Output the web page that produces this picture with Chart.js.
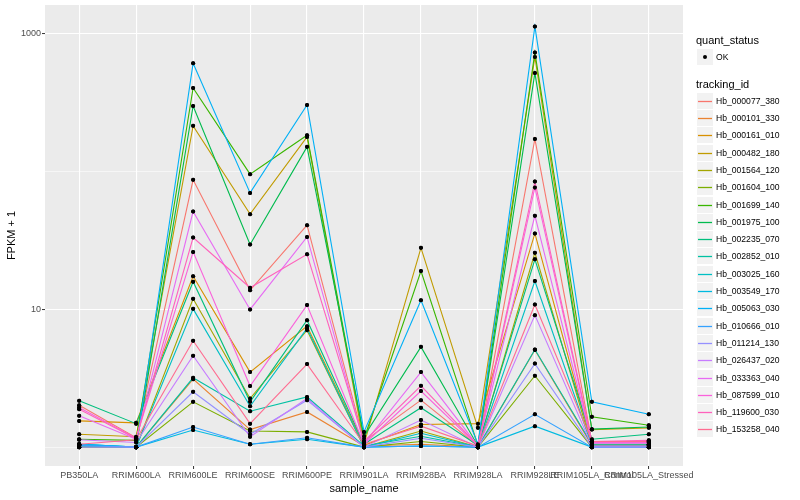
<!DOCTYPE html>
<html><head><meta charset="utf-8">
<script src="https://cdn.jsdelivr.net/npm/chart.js@4/dist/chart.umd.min.js"></script>
<style>
body{margin:0;background:#fff;font-family:"Liberation Sans",Arial,sans-serif;}
#wrap{position:relative;width:800px;height:500px;overflow:hidden;}
#legend{position:absolute;left:0;top:0;width:800px;height:500px;pointer-events:none;}
.lt{position:absolute;font-size:11px;color:#000;white-space:nowrap;height:14px;line-height:14px;}
.lab{position:absolute;font-size:8.6px;color:#000;white-space:nowrap;height:12px;line-height:12px;}
</style></head>
<body><div id="wrap"><canvas id="c" width="800" height="500" style="width:800px;height:500px"></canvas><div id="legend"></div></div>
<script>
const categories = ["PB350LA","RRIM600LA","RRIM600LE","RRIM600SE","RRIM600PE","RRIM901LA","RRIM928BA","RRIM928LA","RRIM928LE","RRIM105LA_Control","RRIM105LA_Stressed"];
const trackingIds = ["Hb_000077_380","Hb_000101_330","Hb_000161_010","Hb_000482_180","Hb_001564_120","Hb_001604_100","Hb_001699_140","Hb_001975_100","Hb_002235_070","Hb_002852_010","Hb_003025_160","Hb_003549_170","Hb_005063_030","Hb_010666_010","Hb_011214_130","Hb_026437_020","Hb_033363_040","Hb_087599_010","Hb_119600_030","Hb_153258_040"];
const yBreaks = [1, 10, 100, 1000];
const yLabels = [10, 1000];

// FPKM + 1 per sample (order of categories)
const hb_000077_380 = [2.01, 1.17, 86.5, 13.7, 40.6, 1.10, 2.19, 1.02, 171, 1.10, 1.10];
const hb_000101_330 = [1.00, 1.00, 3.11, 1.34, 1.80, 1.02, 1.05, 1.00, 5.05, 1.03, 1.03];
const hb_000161_010 = [1.55, 1.50, 17.3, 3.50, 7.53, 1.03, 1.46, 1.48, 35.4, 1.05, 1.05];
const hb_000482_180 = [1.24, 1.19, 213, 48.8, 177, 1.05, 27.8, 1.38, 673, 1.34, 1.38];
const hb_001564_120 = [1.02, 1.00, 11.9, 2.25, 7.04, 1.00, 1.31, 1.00, 25.6, 1.02, 1.02];
const hb_001604_100 = [1.00, 1.00, 2.13, 1.31, 1.29, 1.00, 1.10, 1.00, 3.29, 1.00, 1.00];
const hb_001699_140 = [1.14, 1.12, 401, 95.1, 182, 1.15, 18.9, 1.03, 725, 1.66, 1.44];
const hb_001975_100 = [1.03, 1.00, 297, 29.4, 150, 1.20, 5.33, 1.02, 515, 1.35, 1.40];
const hb_002235_070 = [2.17, 1.48, 15.8, 2.13, 8.32, 1.05, 1.93, 1.03, 23.0, 1.14, 1.24];
const hb_002852_010 = [1.02, 1.00, 3.18, 1.82, 2.31, 1.02, 1.20, 1.00, 5.10, 1.05, 1.05];
const hb_003025_160 = [1.05, 1.00, 10.05, 1.98, 7.25, 1.00, 1.26, 1.00, 16.0, 1.02, 1.02];
const hb_003549_170 = [1.05, 1.00, 1.33, 1.05, 1.14, 1.00, 1.02, 1.00, 1.42, 1.00, 1.00];
const hb_005063_030 = [1.05, 1.00, 606, 69.6, 302, 1.29, 11.6, 1.05, 1119, 2.13, 1.73];
const hb_010666_010 = [1.03, 1.00, 1.40, 1.05, 1.17, 1.00, 1.02, 1.00, 1.73, 1.00, 1.00];
const hb_011214_130 = [1.00, 1.00, 2.52, 1.24, 2.19, 1.00, 1.16, 1.00, 4.03, 1.00, 1.00];
const hb_026437_020 = [1.13, 1.08, 4.60, 1.19, 2.25, 1.00, 1.57, 1.00, 9.05, 1.02, 1.02];
const hb_033363_040 = [1.69, 1.14, 51.0, 9.95, 33.4, 1.06, 3.50, 1.02, 47.6, 1.07, 1.07];
const hb_087599_010 = [1.94, 1.16, 26.0, 2.77, 10.7, 1.05, 2.55, 1.02, 76.2, 1.08, 1.08];
const hb_119600_030 = [1.88, 1.15, 33.0, 14.3, 25.0, 1.10, 2.78, 1.03, 84.2, 1.10, 1.12];
const hb_153258_040 = [1.05, 1.13, 5.90, 1.48, 4.00, 1.05, 1.42, 1.02, 10.8, 1.10, 1.10];

const seriesValues = [hb_000077_380, hb_000101_330, hb_000161_010, hb_000482_180, hb_001564_120, hb_001604_100, hb_001699_140, hb_001975_100, hb_002235_070, hb_002852_010, hb_003025_160, hb_003549_170, hb_005063_030, hb_010666_010, hb_011214_130, hb_026437_020, hb_033363_040, hb_087599_010, hb_119600_030, hb_153258_040];

const hueColors = ["#F8766D","#EA8331","#D89000","#C09B00","#A3A500","#7CAE00","#39B600","#00BB4E","#00BF7D","#00C1A3","#00BFC4","#00BAE0","#00B0F6","#35A2FF","#9590FF","#C77CFF","#E76BF3","#FA62DB","#FF62BC","#FF6C91"];

const FONT = '"Liberation Sans", Arial, sans-serif';
const Y_MIN = 0.73, Y_MAX = 1600;
const keyTop = (i) => Math.round(100.7 + 17.3 * i);

const panelBg = {id:'panelBg', beforeDraw(chart){const a=chart.chartArea, c=chart.ctx; c.save(); c.fillStyle='#EBEBEB'; c.fillRect(a.left,a.top,a.right-a.left,a.bottom-a.top); c.restore();}};
const pointsOnTop = {id:'pointsOnTop', afterDatasetsDraw(chart){const ctx=chart.ctx, area=chart.chartArea; const metas=chart.getSortedVisibleDatasetMetas(); for(let i=metas.length-1;i>=0;i--){metas[i].data.forEach(el=>el.draw(ctx,area));}}};
const legendKeys = {id:'legendKeys', afterDraw(chart){
  const c = chart.ctx; c.save();
  c.fillStyle = '#F2F2F2'; c.fillRect(697, 49, 16, 16);
  c.fillStyle = '#000'; c.beginPath(); c.arc(705, 57, 2, 0, Math.PI*2); c.fill();
  trackingIds.forEach((id, i) => {
    const cy = keyTop(i);
    c.fillStyle = '#F2F2F2'; c.fillRect(697, cy - 8, 16, 16);
    c.strokeStyle = hueColors[i]; c.lineWidth = 1.3;
    c.beginPath(); c.moveTo(698, cy + 0.5); c.lineTo(712, cy + 0.5); c.stroke();
  });
  c.restore();
}};

const isLabeled = (c) => c.tick && yLabels.includes(c.tick.value);

new Chart(document.getElementById('c'), {
  type: 'line',
  data: {
    datasets: trackingIds.map((id, i) => ({
      label: id,
      data: seriesValues[i].map((v, j) => ({x: j, y: v})),
      borderColor: hueColors[i],
      backgroundColor: hueColors[i],
      borderWidth: 1.1,
      pointRadius: 2,
      pointHoverRadius: 2,
      pointBackgroundColor: '#000',
      pointBorderColor: '#000',
      pointBorderWidth: 0,
      tension: 0,
      fill: false,
      clip: false,
      order: trackingIds.length - i
    }))
  },
  options: {
    responsive: false,
    animation: false,
    devicePixelRatio: 1,
    layout: {padding: {left: 0, right: 117, top: 5, bottom: 0}},
    plugins: {legend: {display: false}, tooltip: {enabled: false}},
    scales: {
      x: {
        type: 'linear', min: -0.6, max: 10.6,
        afterBuildTicks(s){ s.ticks = categories.map((_, i) => ({value: i})); s.min = -0.6; s.max = 10.6; },
        afterFit(s){ s.height = 34; s.paddingLeft = 0; s.paddingRight = 0; },
        ticks: {autoSkip: false, maxRotation: 0, minRotation: 0, padding: 1, color: '#4D4D4D', font: {size: 9, family: FONT}, callback: (v) => categories[v]},
        grid: {color: '#FFFFFF', lineWidth: 1.1, tickColor: '#333333', tickLength: 3, tickWidth: 1},
        border: {display: false},
        title: {display: true, text: 'sample_name', color: '#000', font: {size: 11, family: FONT}, padding: {top: 0, bottom: 4}}
      },
      y: {
        type: 'logarithmic', min: Y_MIN, max: Y_MAX,
        afterBuildTicks(s){ s.ticks = yBreaks.map(v => ({value: v})); s.min = Y_MIN; s.max = Y_MAX; },
        afterFit(s){ s.width = 45; s.paddingTop = 0; s.paddingBottom = 0; },
        ticks: {padding: 1, color: '#4D4D4D', font: {size: 9, family: FONT}, callback: (v) => yLabels.includes(v) ? String(v) : ''},
        grid: {color: '#FFFFFF', lineWidth: (c) => isLabeled(c) ? 1.1 : 0.55, tickColor: (c) => isLabeled(c) ? '#333333' : 'rgba(0,0,0,0)', tickLength: 3, tickWidth: 1},
        border: {display: false},
        title: {display: true, text: 'FPKM + 1', color: '#000', font: {size: 11, family: FONT}, padding: {top: 5, bottom: 0}}
      }
    }
  },
  plugins: [panelBg, pointsOnTop, legendKeys]
});

const lg = document.getElementById('legend');
function add(html){ lg.insertAdjacentHTML('beforeend', html); }
add('<div class="lt" style="left:696px;top:33px">quant_status</div>');
add('<div class="lab" style="left:716px;top:51px">OK</div>');
add('<div class="lt" style="left:696px;top:77px">tracking_id</div>');
trackingIds.forEach((id, i) => {
  add('<div class="lab" style="left:716px;top:' + (keyTop(i) - 6) + 'px">' + id + '</div>');
});
</script>
</body></html>
